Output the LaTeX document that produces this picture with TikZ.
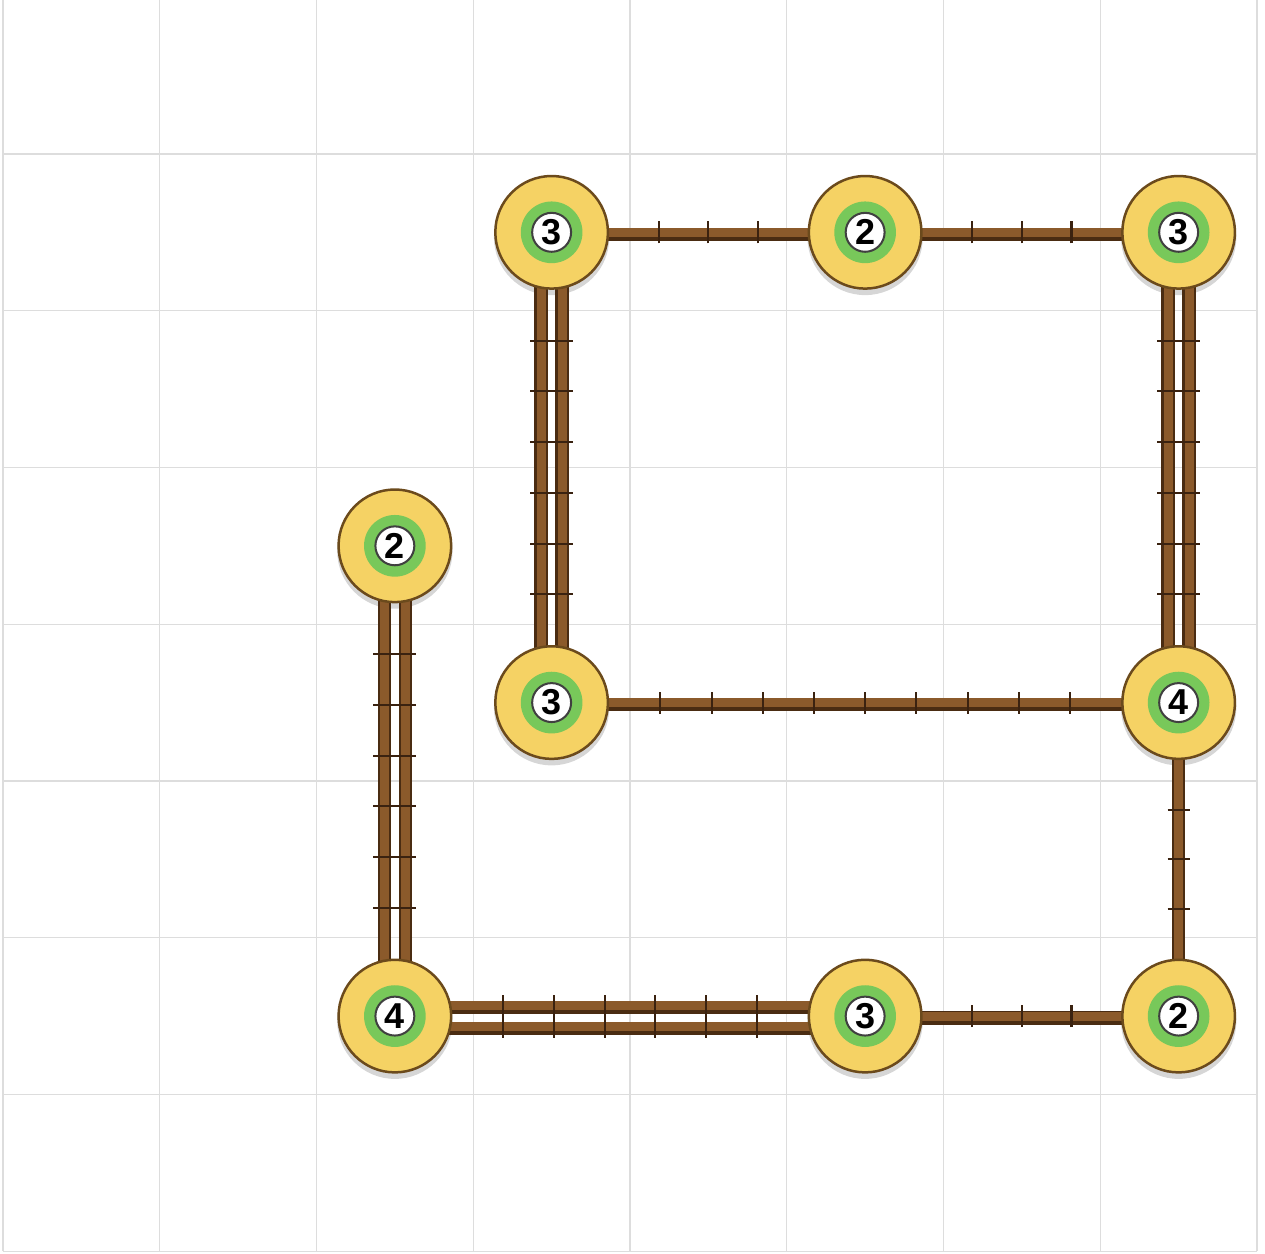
\documentclass[tikz,border=0pt]{standalone}
\usepackage{fontspec}
\usepackage{xcolor}
\usepackage{tikz}
\usetikzlibrary{calc, decorations.markings}

\newfontfamily\islandfont{Liberation Sans}

\definecolor{gridgray}{HTML}{DDDDDD}
\definecolor{islandfill}{HTML}{F5D264}
\definecolor{islandedge}{HTML}{6B4A1C}
\definecolor{ringgreen}{HTML}{78C85A}
\definecolor{numedge}{HTML}{404040}
\definecolor{woodlight}{HTML}{8B5A2B}
\definecolor{wooddark}{HTML}{4A2C12}
\definecolor{tiecolor}{HTML}{3A2210}
\definecolor{shadefill}{HTML}{D6D6D6}

\pgfdeclarelayer{gridlayer}
\pgfdeclarelayer{shade}
\pgfdeclarelayer{bars}
\pgfsetlayers{gridlayer,shade,bars,main}

\tikzset{
  gridline/.style={draw=gridgray, line width=0.35pt},
  island/.style={circle, draw=islandedge, fill=islandfill, line width=0.68pt,
    minimum size=30.66pt, inner sep=0pt,
    font=\islandfont\bfseries\fontsize{9.8}{9.8}\selectfont,
    path picture={
      \fill[ringgreen] (path picture bounding box.center) circle (8.4pt);
      \filldraw[fill=white, draw=numedge, line width=0.55pt]
        (path picture bounding box.center) circle (5.3pt);
    }},
  plankdark/.style={draw=wooddark, line width=3.65pt},
  planklight/.style={draw=woodlight, line width=2.45pt},
  tiestroke/.style={draw=tiecolor, line width=0.55pt},
  ties/.style n args={3}{postaction={decorate, decoration={markings,
    mark=between positions #1 and #2 step #1 with
      {\draw[tiestroke] (0pt,-#3) -- (0pt,#3);}}}}
}

% one plank of a bridge, #1 = shift of the plank
\newcommand{\plank}[3]{%
  \draw[plankdark] ([shift={#1}, yshift=-0.55pt]#2.center) -- ([shift={#1}, yshift=-0.55pt]#3.center);
  \draw[planklight] ([shift={#1}]#2.center) -- ([shift={#1}]#3.center);
}

\begin{document}
\begin{tikzpicture}[x=1.5cm, y=1.5cm]
    \useasboundingbox (-0.019,-0.0175) rectangle (8.051,7.982);

    % 1. Grid
    \begin{pgfonlayer}{gridlayer}
        \foreach \k in {0,...,8} {
            \draw[gridline] (\k,0) -- (\k,8);
            \draw[gridline] (0,\k) -- (8,\k);
        }
    \end{pgfonlayer}

    % 2. Islands
    \node[island] (i1) at (3.5,6.5) {3};
    \node[island] (i2) at (5.5,6.5) {2};
    \node[island] (i3) at (7.5,6.5) {3};
    \node[island] (i4) at (2.5,4.5) {2};
    \node[island] (i5) at (3.5,3.5) {3};
    \node[island] (i6) at (7.5,3.5) {4};
    \node[island] (i7) at (2.5,1.5) {4};
    \node[island] (i8) at (5.5,1.5) {3};
    \node[island] (i9) at (7.5,1.5) {2};

    % 3. Shadows under the islands
    \begin{pgfonlayer}{shade}
        \foreach \n in {i1,i2,i3,i4,i5,i6,i7,i8,i9}
            \fill[shadefill] ([yshift=-1.4pt]\n.center) circle (15.7pt);
    \end{pgfonlayer}

    % 4. Bridges: single ones
    \begin{pgfonlayer}{bars}
        \plank{(0pt,0pt)}{i1}{i2}
        \plank{(0pt,0pt)}{i2}{i3}
        \plank{(0pt,0pt)}{i5}{i6}
        \plank{(0pt,0pt)}{i8}{i9}
        \plank{(0pt,0pt)}{i6}{i9}

        % double ones
        \foreach \s in {-2.86pt,2.86pt} {
            \plank{(\s,0pt)}{i1}{i5}
            \plank{(\s,0pt)}{i3}{i6}
            \plank{(\s,0pt)}{i4}{i7}
            \plank{(0pt,\s)}{i7}{i8}
        }

        % ties across the planks
        \path[ties={0.25}{0.8}{3pt}] (i1) -- (i2);
        \path[ties={0.25}{0.8}{3pt}] (i2) -- (i3);
        \path[ties={0.1}{0.95}{3pt}] (i5) -- (i6);
        \path[ties={0.25}{0.8}{3pt}] (i8) -- (i9);
        \path[ties={0.25}{0.8}{3pt}] (i6) -- (i9);
        \path[ties={0.142857}{0.9}{5.85pt}] (i1) -- (i5);
        \path[ties={0.142857}{0.9}{5.85pt}] (i3) -- (i6);
        \path[ties={0.142857}{0.9}{5.85pt}] (i4) -- (i7);
        \path[ties={0.142857}{0.9}{5.85pt}] (i7) -- (i8);
    \end{pgfonlayer}

\end{tikzpicture}
\end{document}
